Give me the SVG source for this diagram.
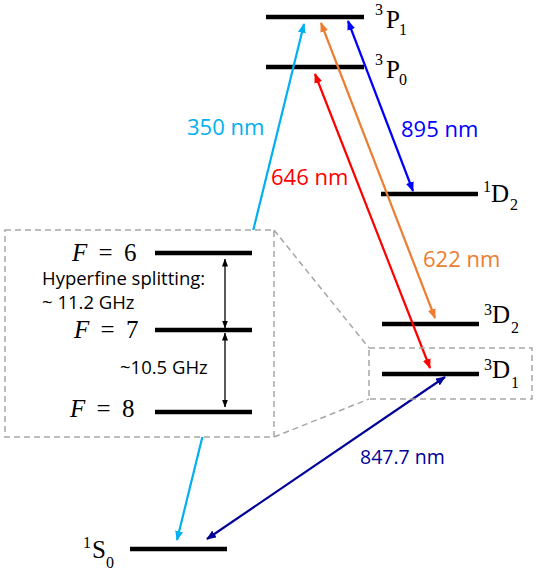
<svg xmlns="http://www.w3.org/2000/svg" width="539" height="572" viewBox="0 0 539 572">
<style>
.lvl{stroke:#000;stroke-width:4.5;}
.term{font-family:"Liberation Serif","DejaVu Serif",serif;fill:#000;}
.big{font-size:25px;}
.sm{font-size:16px;}
.lab{font-family:"Open Sans","Noto Sans",sans-serif;font-size:22px;}
.hf{font-family:"Open Sans","Noto Sans",sans-serif;font-size:18.5px;fill:#000;}
.fl{font-family:"Liberation Serif","DejaVu Serif",serif;font-size:25px;fill:#000;word-spacing:5px;}
.dash{fill:none;stroke:#A6A6A6;stroke-width:1.5;stroke-dasharray:6 4;}
.arr{fill:none;stroke-width:2.2;}
</style>
<defs>
<marker id="mcy" viewBox="0 0 10 8" refX="9" refY="4" markerWidth="10" markerHeight="8" markerUnits="userSpaceOnUse" orient="auto-start-reverse"><path d="M0,0 L10,4 L0,8 z" fill="#00B0F0"/></marker>
<marker id="mor" viewBox="0 0 10 8" refX="9" refY="4" markerWidth="10" markerHeight="8" markerUnits="userSpaceOnUse" orient="auto-start-reverse"><path d="M0,0 L10,4 L0,8 z" fill="#ED7D31"/></marker>
<marker id="mbl" viewBox="0 0 10 8" refX="9" refY="4" markerWidth="10" markerHeight="8" markerUnits="userSpaceOnUse" orient="auto-start-reverse"><path d="M0,0 L10,4 L0,8 z" fill="#0000FF"/></marker>
<marker id="mrd" viewBox="0 0 10 8" refX="9" refY="4" markerWidth="10" markerHeight="8" markerUnits="userSpaceOnUse" orient="auto-start-reverse"><path d="M0,0 L10,4 L0,8 z" fill="#FF0000"/></marker>
<marker id="mnv" viewBox="0 0 10 8" refX="9" refY="4" markerWidth="10" markerHeight="8" markerUnits="userSpaceOnUse" orient="auto-start-reverse"><path d="M0,0 L10,4 L0,8 z" fill="#000099"/></marker>
<marker id="mbk" viewBox="0 0 8 6" refX="7.5" refY="3" markerWidth="8" markerHeight="6" markerUnits="userSpaceOnUse" orient="auto-start-reverse"><path d="M0,0 L8,3 L0,6 z" fill="#000"/></marker>
</defs>

<g id="level-3P1">
<line class="lvl" x1="266" y1="17" x2="364" y2="17"/>
<text class="term"><tspan class="sm" x="375" y="15">3</tspan><tspan class="big" x="386" y="28">P</tspan><tspan class="sm" x="399" y="35">1</tspan></text>
</g>
<g id="level-3P0">
<line class="lvl" x1="266" y1="67" x2="364" y2="67"/>
<text class="term"><tspan class="sm" x="375" y="65">3</tspan><tspan class="big" x="386" y="78">P</tspan><tspan class="sm" x="399" y="85">0</tspan></text>
</g>
<g id="level-1D2">
<line class="lvl" x1="381" y1="194" x2="478" y2="194"/>
<text class="term"><tspan class="sm" x="483" y="192">1</tspan><tspan class="big" x="491" y="202">D</tspan><tspan class="sm" x="510" y="210">2</tspan></text>
</g>
<g id="level-3D2">
<line class="lvl" x1="382" y1="324" x2="479" y2="324"/>
<text class="term"><tspan class="sm" x="484" y="315">3</tspan><tspan class="big" x="492" y="323">D</tspan><tspan class="sm" x="511" y="333">2</tspan></text>
</g>
<g id="level-3D1">
<line class="lvl" x1="382" y1="374" x2="479" y2="374"/>
<text class="term"><tspan class="sm" x="484" y="370">3</tspan><tspan class="big" x="492" y="378">D</tspan><tspan class="sm" x="511" y="388">1</tspan></text>
</g>
<g id="level-1S0">
<line class="lvl" x1="130" y1="549" x2="227" y2="549"/>
<text class="term"><tspan class="sm" x="83" y="548">1</tspan><tspan class="big" x="92" y="558">S</tspan><tspan class="sm" x="106" y="568">0</tspan></text>
</g>

<g id="connectors">
<line class="arr" stroke="#00B0F0" x1="177" y1="540" x2="304" y2="24" marker-start="url(#mcy)" marker-end="url(#mcy)"/>
<line class="arr" stroke="#ED7D31" x1="321" y1="23" x2="435" y2="318" marker-start="url(#mor)" marker-end="url(#mor)"/>
<line class="arr" stroke="#0000FF" x1="348" y1="21" x2="413" y2="191" marker-start="url(#mbl)" marker-end="url(#mbl)"/>
<line class="arr" stroke="#FF0000" x1="315" y1="74" x2="430" y2="368" marker-start="url(#mrd)" marker-end="url(#mrd)"/>
<line class="arr" stroke="#000099" x1="445" y1="377" x2="207" y2="539" marker-start="url(#mnv)" marker-end="url(#mnv)"/>
<text class="lab" fill="#00B0F0" x="187" y="135">350 nm</text>
<text class="lab" fill="#FF0000" x="271" y="185">646 nm</text>
<text class="lab" fill="#0000FF" x="401" y="137">895 nm</text>
<text class="lab" fill="#ED7D31" x="423" y="267">622 nm</text>
<text class="lab" fill="#000099" style="font-size:19.5px" x="360" y="464">847.7 nm</text>
</g>

<g id="hyperfine-box">
<rect class="dash" x="5" y="230" width="269" height="207" style="fill:#fff"/>
<rect class="dash" x="369" y="348" width="163" height="51"/>
<line class="dash" x1="274" y1="230" x2="369" y2="348"/>
<line class="dash" x1="274" y1="437" x2="369" y2="399"/>
</g>
<g id="level-F6">
<line class="lvl" x1="155" y1="253" x2="252" y2="253"/>
<text class="fl" x="72" y="261"><tspan font-style="italic">F</tspan> = 6</text>
</g>
<g id="level-F7">
<line class="lvl" x1="155" y1="330" x2="252" y2="330"/>
<text class="fl" x="74" y="338"><tspan font-style="italic">F</tspan> = 7</text>
</g>
<g id="level-F8">
<line class="lvl" x1="155" y1="412" x2="252" y2="412"/>
<text class="fl" x="70" y="417"><tspan font-style="italic">F</tspan> = 8</text>
</g>
<g id="hyperfine-connectors">
<line stroke="#000" stroke-width="1.3" x1="225" y1="259" x2="225" y2="328" marker-start="url(#mbk)" marker-end="url(#mbk)"/>
<line stroke="#000" stroke-width="1.3" x1="225" y1="333" x2="225" y2="407" marker-start="url(#mbk)" marker-end="url(#mbk)"/>
<text class="hf" x="42" y="285">Hyperfine splitting:</text>
<text class="hf" x="42" y="309">~ 11.2 GHz</text>
<text class="hf" x="120" y="374">~10.5 GHz</text>
</g>
</svg>
